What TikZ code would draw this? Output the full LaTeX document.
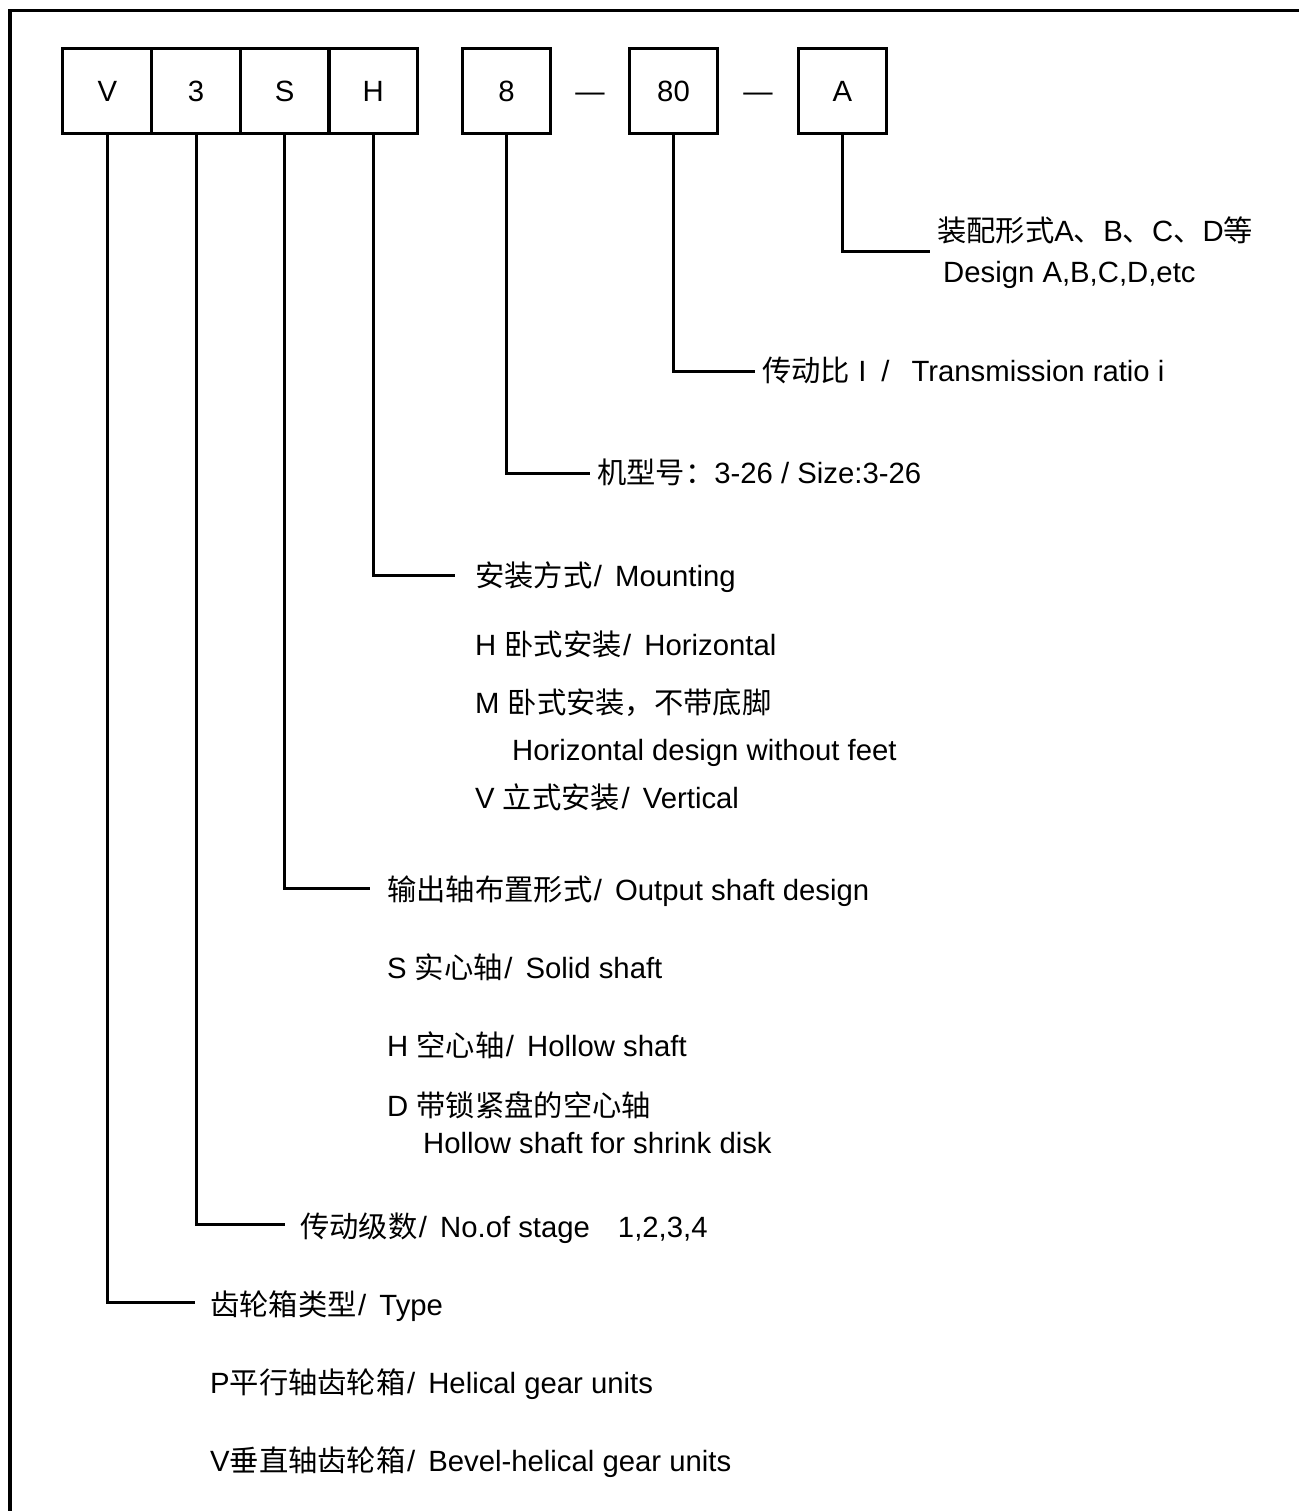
\documentclass[tikz,border=0pt]{standalone}
\usepackage{fontspec}
\setmainfont{Liberation Sans}
\newfontfamily\cjk{Noto Sans CJK SC}
\newcommand\zh[1]{{\cjk #1}}
\newcommand\sep{\hspace{1.5pt}/\hspace{5pt}}
\begin{document}
\begin{tikzpicture}[x=1pt,y=-1pt,
  codebox/.style={draw,line width=3pt,minimum width=88.7pt,minimum height=85pt,inner sep=0pt,text height=21pt,text depth=0pt,font=\fontsize{29.3}{35}\selectfont},
  lbl/.style={anchor=base west,inner sep=0pt,font=\fontsize{29.3}{35}\selectfont},
  dashlbl/.style={inner sep=0pt,text height=21pt,text depth=0pt,font=\fontsize{29.3}{35}\selectfont},
  conn/.style={line width=3pt},
  frame/.style={line width=3.6pt}]
\useasboundingbox (0,0) rectangle (1299,1511);
% frame
\draw[frame] (10,1511) -- (10,10.5) -- (1299,10.5);
% boxes
\node[codebox] (bV) at (107.3,91.5) {V};
\node[codebox] (b3) at (196,91.5) {3};
\node[codebox] (bS) at (284.7,91.5) {S};
\node[codebox] (bH) at (373.3,91.5) {H};
\node[codebox] (b8) at (506.5,91.5) {8};
\node[dashlbl] (d1) at (590,91.5) {—};
\node[codebox] (b80) at (673.5,91.5) {80};
\node[dashlbl] (d2) at (758,91.5) {—};
\node[codebox] (bA) at (842.5,91.5) {A};
% connector ends
\coordinate (eA) at (930,252);
\coordinate (e80) at (755,371);
\coordinate (e8) at (590,473);
\coordinate (eH) at (455,575);
\coordinate (eS) at (370,888);
\coordinate (e3) at (285,1224);
\coordinate (eV) at (195,1302);
\draw[conn] (bA.south) |- (eA);
\draw[conn] (b80.south) |- (e80);
\draw[conn] (b8.south) |- (e8);
\draw[conn] (bH.south) |- (eH);
\draw[conn] (bS.south) |- (eS);
\draw[conn] (b3.south) |- (e3);
\draw[conn] (bV.south) |- (eV);
% labels
\node[lbl] (tA1) at (937,242) {\zh{装配形式}A\zh{、}B\zh{、}C\zh{、}D\zh{等}};
\node[lbl] (tA2) at (943,283) {Design A,B,C,D,etc};
\node[lbl] (t80) at (762,381) {\zh{传动比} I\hspace{15pt}/\hspace{22pt}Transmission ratio i};
\node[lbl] (t8) at (597,483) {\zh{机型号：}3-26 / Size:3-26};
\node[lbl] (tH) at (475,586) {\zh{安装方式}\sep{} Mounting};
\node[lbl] (tH1) at (475,655) {H \zh{卧式安装}\sep{} Horizontal};
\node[lbl] (tH2) at (475,713) {M \zh{卧式安装，不带底脚}};
\node[lbl] (tH2b) at (512,760) {Horizontal design without feet};
\node[lbl] (tH3) at (475,808) {V \zh{立式安装}\sep{} Vertical};
\node[lbl] (tS) at (387,900) {\zh{输出轴布置形式}\sep{} Output shaft design};
\node[lbl] (tS1) at (387,978) {S \zh{实心轴}\sep{} Solid shaft};
\node[lbl] (tS2) at (387,1056) {H \zh{空心轴}\sep{} Hollow shaft};
\node[lbl] (tS3) at (387,1116) {D \zh{带锁紧盘的空心轴}};
\node[lbl] (tS3b) at (423,1153) {Hollow shaft for shrink disk};
\node[lbl] (t3) at (300,1237) {\zh{传动级数}\sep{} No.of stage\hspace{28pt}1,2,3,4};
\node[lbl] (tV) at (210,1315) {\zh{齿轮箱类型}\sep{} Type};
\node[lbl] (tV1) at (210,1393) {P\zh{平行轴齿轮箱}\sep{} Helical gear units};
\node[lbl] (tV2) at (210,1471) {V\zh{垂直轴齿轮箱}\sep{} Bevel-helical gear units};
\end{tikzpicture}
\end{document}
